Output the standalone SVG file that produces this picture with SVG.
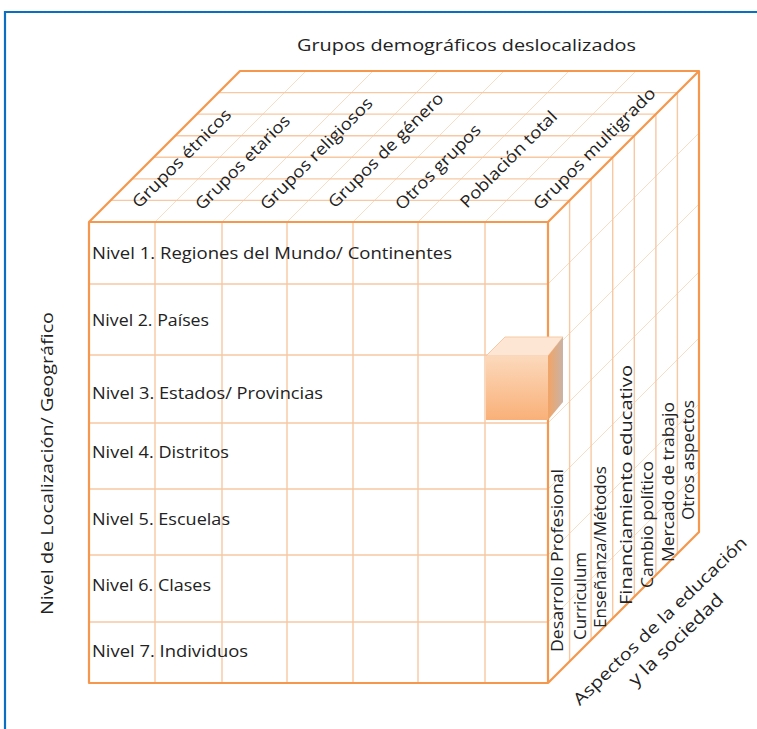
<svg xmlns="http://www.w3.org/2000/svg" width="757" height="729" viewBox="0 0 757 729">
<defs>
<style>
.t{font-family:"Open Sans","Liberation Sans",sans-serif;font-size:16.5px;fill:#222222}
.edge{stroke:#F5974C;stroke-width:2.2;fill:none;stroke-linejoin:round}
.grid{stroke:#F7C8A2;stroke-width:1.4;fill:none}
.diag{stroke:#F9DCC6;stroke-width:1;fill:none}
</style>
<linearGradient id="cf" x1="0" y1="0" x2="0" y2="1">
<stop offset="0" stop-color="#FCD9BC"/><stop offset="1" stop-color="#F9B078"/>
</linearGradient>
<linearGradient id="cr" x1="0" y1="0" x2="1" y2="0">
<stop offset="0" stop-color="#F2A466"/><stop offset="1" stop-color="#C9B3A6"/>
</linearGradient>
</defs>
<rect width="757" height="729" fill="#ffffff"/>
<path d="M5,729 V12 H757" fill="none" stroke="#0A6FC2" stroke-width="2.2"/>

<g id="connectors">
<path class="diag" d="M155,222 L306,71 M222,222 L373,71 M287,222 L438,71 M353,222 L504,71 M418,222 L569,71 M485,222 L636,71"/>
<path class="diag" d="M548,284 L699,133 M548,355 L699,204 M548,423 L699,272 M548,489 L699,338 M548,555 L699,404 M548,622 L699,471"/>
<path class="grid" d="M110.6,200.4 H569.6 M132.1,178.9 H591.1 M153.7,157.3 H612.7 M175.3,135.7 H634.3 M196.9,114.1 H655.9 M218.4,92.6 H677.4"/>
<path class="grid" d="M569.6,200.4 V661.4 M591.1,178.9 V639.9 M612.7,157.3 V618.3 M634.3,135.7 V596.7 M655.9,114.1 V575.1 M677.4,92.6 V553.6"/>
<path class="grid" d="M155,222 V683 M222,222 V683 M287,222 V683 M353,222 V683 M418,222 V683 M485,222 V683 M89,284 H548 M89,355 H548 M89,423 H548 M89,489 H548 M89,555 H548 M89,622 H548"/>
<path class="edge" d="M89,222 H548 V683 H89 Z M89,222 L240,71 H699 L548,222 M699,71 V532 L548,683"/>
</g>

<g id="small-cube">
<polygon points="486,356 505,337 563,337 548,356" fill="#FDE6D4" stroke="#F6C9A4" stroke-width="1"/>
<polygon points="548,356 563,337 563,402 548,420" fill="url(#cr)"/>
<rect x="486" y="356" width="62" height="64" fill="url(#cf)"/>
</g>

<g id="title"><text class="t" x="297" y="51" textLength="339" lengthAdjust="spacingAndGlyphs">Grupos demográficos deslocalizados</text></g>

<g id="axis-left"><text class="t" transform="translate(53,615) rotate(-90)" textLength="303" lengthAdjust="spacingAndGlyphs">Nivel de Localización/ Geográfico</text></g>

<g id="axis-right">
<text class="t" transform="translate(664,625) rotate(-44)" text-anchor="middle" textLength="234" lengthAdjust="spacingAndGlyphs">Aspectos de la educación</text>
<text class="t" transform="translate(680,644) rotate(-44)" text-anchor="middle" style="font-size:17.5px" textLength="124" lengthAdjust="spacingAndGlyphs">y la sociedad</text>
</g>

<g id="levels">
<text class="t" x="92" y="259" textLength="360" lengthAdjust="spacingAndGlyphs">Nivel 1. Regiones del Mundo/ Continentes</text>
<text class="t" x="92" y="326" textLength="117" lengthAdjust="spacingAndGlyphs">Nivel 2. Países</text>
<text class="t" x="92" y="399" textLength="231" lengthAdjust="spacingAndGlyphs">Nivel 3. Estados/ Provincias</text>
<text class="t" x="92" y="458" textLength="137" lengthAdjust="spacingAndGlyphs">Nivel 4. Distritos</text>
<text class="t" x="92" y="525" textLength="138" lengthAdjust="spacingAndGlyphs">Nivel 5. Escuelas</text>
<text class="t" x="92" y="591" textLength="119" lengthAdjust="spacingAndGlyphs">Nivel 6. Clases</text>
<text class="t" x="92" y="657" textLength="156" lengthAdjust="spacingAndGlyphs">Nivel 7. Individuos</text>
</g>

<g id="groups">
<text class="t" transform="translate(139,209) rotate(-45)" textLength="132" lengthAdjust="spacingAndGlyphs">Grupos étnicos</text>
<text class="t" transform="translate(202,211) rotate(-45)" textLength="126" lengthAdjust="spacingAndGlyphs">Grupos etarios</text>
<text class="t" transform="translate(267,211) rotate(-45)" textLength="151" lengthAdjust="spacingAndGlyphs">Grupos religiosos</text>
<text class="t" transform="translate(335,209) rotate(-45)" textLength="155" lengthAdjust="spacingAndGlyphs">Grupos de género</text>
<text class="t" transform="translate(402,211) rotate(-45)" textLength="113" lengthAdjust="spacingAndGlyphs">Otros grupos</text>
<text class="t" transform="translate(467,209) rotate(-45)" textLength="129" lengthAdjust="spacingAndGlyphs">Población total</text>
<text class="t" transform="translate(540,211) rotate(-45)" textLength="165" lengthAdjust="spacingAndGlyphs">Grupos multigrado</text>
</g>

<g id="aspects">
<text class="t" transform="translate(563,652) rotate(-90)" textLength="183" lengthAdjust="spacingAndGlyphs">Desarrollo Profesional</text>
<text class="t" transform="translate(586,640) rotate(-90)" textLength="88" lengthAdjust="spacingAndGlyphs">Curriculum</text>
<text class="t" transform="translate(606,628) rotate(-90)" textLength="162" lengthAdjust="spacingAndGlyphs">Enseñanza/Métodos</text>
<text class="t" transform="translate(632,605) rotate(-90)" textLength="240" lengthAdjust="spacingAndGlyphs">Financiamiento educativo</text>
<text class="t" transform="translate(653,588) rotate(-90)" textLength="127" lengthAdjust="spacingAndGlyphs">Cambio político</text>
<text class="t" transform="translate(674,562) rotate(-90)" textLength="160" lengthAdjust="spacingAndGlyphs">Mercado de trabajo</text>
<text class="t" transform="translate(694,520) rotate(-90)" textLength="120" lengthAdjust="spacingAndGlyphs">Otros aspectos</text>
</g>
</svg>
